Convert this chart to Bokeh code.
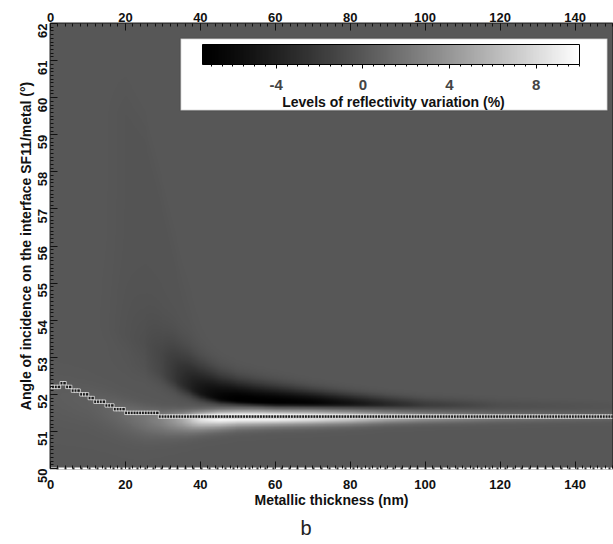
import numpy as np
from bokeh.plotting import figure
from bokeh.models import (LinearAxis, Range1d, ColorBar, LinearColorMapper,
                          FixedTicker, BoxAnnotation, Label, Title)
from bokeh.embed import file_html
from bokeh.resources import INLINE

# ---------------- data ----------------
thickness_range = [0, 150]          # nm
angle_range = [50, 62]              # degrees
x_ticks = [0, 20, 40, 60, 80, 100, 120, 140]
y_ticks = [50, 51, 52, 53, 54, 55, 56, 57, 58, 59, 60, 61, 62]
cbar_ticks = [-4, 0, 4, 8]
value_range = [-7.4, 10.0]          # % reflectivity variation (colour scale limits)

# profile of the map, read at thickness knots (nm)
knot_t       = [0,    10,   15,   20,    25,    30,   35,   40,    45,   50,    55,    60,    70,    80,    90,    100,   120,   150]
bright_amp   = [0.3,  0.5,  0.8,  1.3,   2.0,   3.0,  5.0,  8.5,   10.0, 10.0,  10.0,  10.0,  9.0,   7.5,   5.5,   4.0,   2.0,   0.9]
bright_ang   = [52.0, 51.8, 51.6, 51.45, 51.35, 51.32, 51.33, 51.35, 51.37, 51.38, 51.38, 51.38, 51.38, 51.38, 51.38, 51.38, 51.38, 51.38]
bright_sd_lo = [0.5,  0.45, 0.4,  0.38,  0.35,  0.3,  0.26, 0.22,  0.2,  0.18,  0.17,  0.16,  0.15,  0.14,  0.12,  0.11,  0.1,   0.08]
bright_sd_hi = [0.35, 0.3,  0.3,  0.25,  0.2,   0.16, 0.14, 0.13,  0.13, 0.13,  0.13,  0.12,  0.12,  0.11,  0.1,   0.09,  0.08,  0.07]
dark_amp     = [0.0,  0.0, -0.05, -0.15, -0.4,  -1.2, -3.0, -5.0,  -6.5, -7.4,  -7.4,  -7.4,  -6.8,  -5.2,  -3.4,  -1.9,  -0.6,  -0.2]
dark_ang     = [53.5, 53.5, 53.3, 53.1,  52.9,  52.6, 52.3, 52.05, 51.9, 51.84, 51.8,  51.78, 51.76, 51.74, 51.72, 51.7,  51.68, 51.66]
dark_sd_hi   = [1.5,  1.5,  1.5,  1.3,   1.0,   0.75, 0.6,  0.48,  0.4,  0.34,  0.31,  0.28,  0.22,  0.18,  0.15,  0.13,  0.12,  0.1]
dark_sd_lo   = [0.6,  0.6,  0.5,  0.4,   0.3,   0.25, 0.2,  0.15,  0.11, 0.09,  0.08,  0.08,  0.075, 0.07,  0.07,  0.07,  0.07,  0.07]
plume_amp    = [0.0,  0.0, -0.05, -0.2,  -0.25, -0.25, -0.2, -0.12, -0.05, 0.0,  0.0,   0.0,   0.0,   0.0,   0.0,   0.0,   0.0,   0.0]
plume_top    = [61.0, 61.0, 61.0, 61.0,  60.0,  58.0, 56.0, 54.5,  53.5, 53.0,  53.0,  53.0,  53.0,  53.0,  53.0,  53.0,  53.0,  53.0]

# dotted line: angle of the reflectivity minimum (step function of thickness)
res_step_start = [0.0,  3.0,  4.5,  6.0,  8.0,  10.0, 12.0, 14.5, 17.0, 20.0, 29.0]
res_step_angle = [52.2, 52.3, 52.2, 52.1, 52.0, 51.9, 51.8, 51.7, 51.6, 51.5, 51.4]
res_sample_step = 0.75  # nm between plotted points

# ---------------- build the map ----------------
n_t, n_a = 600, 600
t_grid = np.linspace(thickness_range[0], thickness_range[1], n_t)
a_grid = np.linspace(angle_range[0], angle_range[1], n_a)
A = a_grid[:, None]

def prof(vals):
    return np.interp(t_grid, knot_t, vals)[None, :]

dB = A - prof(bright_ang)
sB = np.where(dB >= 0, prof(bright_sd_hi), prof(bright_sd_lo))
bright = prof(bright_amp) * np.exp(-0.5 * (dB / sB) ** 2)

dD = A - prof(dark_ang)
sD = np.where(dD >= 0, prof(dark_sd_hi), prof(dark_sd_lo))
dark = prof(dark_amp) * np.exp(-0.5 * (dD / sD) ** 2)

plume = prof(plume_amp) * np.clip((prof(plume_top) - A) / 1.5, 0, 1) * np.clip((A - prof(dark_ang)) / 0.5, 0, 1)

Z = np.clip(bright + dark + plume, value_range[0], value_range[1])

res_t = np.arange(thickness_range[0], thickness_range[1] + 1e-9, res_sample_step)
idx = np.searchsorted(res_step_start, res_t, side="right") - 1
res_a = np.array(res_step_angle)[idx]

# ---------------- figure ----------------
levels = (255 * np.linspace(0, 1, 256) ** 1.245).astype(int)
palette = ["#%02x%02x%02x" % (v, v, v) for v in levels]
mapper = LinearColorMapper(palette=palette, low=value_range[0], high=value_range[1])

FONT = "Liberation Sans"
p = figure(width=613, height=544, output_backend="svg", toolbar_location=None,
           x_range=Range1d(*thickness_range), y_range=Range1d(*angle_range),
           min_border_left=50, min_border_right=1, min_border_top=23, min_border_bottom=76,
           x_axis_location="below")
p.grid.visible = False
p.outline_line_color = "#2a2a2a"
p.outline_line_width = 2
p.background_fill_color = "#585858"

p.image(image=[Z], x=thickness_range[0], y=angle_range[0],
        dw=thickness_range[1] - thickness_range[0], dh=angle_range[1] - angle_range[0],
        color_mapper=mapper)

p.scatter(res_t, res_a, marker="square", size=3.4, fill_color="#1a1a1a",
          line_color="white", line_width=0.7)

def style_axis(ax, ticks, minor):
    ax.ticker = FixedTicker(ticks=ticks, minor_ticks=minor)
    ax.major_tick_in = 7
    ax.major_tick_out = 0
    ax.minor_tick_in = 3
    ax.minor_tick_out = 0
    ax.major_tick_line_color = "#111111"
    ax.minor_tick_line_color = "#111111"
    ax.major_label_text_font = FONT
    ax.major_label_text_font_style = "bold"
    ax.major_label_text_font_size = "13px"
    ax.major_label_text_color = "#111111"
    ax.axis_label_text_font = FONT
    ax.axis_label_text_font_style = "bold"
    ax.axis_label_text_font_size = "14px"
    ax.axis_label_text_color = "#111111"

xminor = [float(v) for v in np.arange(0, 151, 2)]
yminor = [float(v) for v in np.round(np.arange(50, 62.001, 0.1), 2)]

xb = p.xaxis[0]
yl = p.yaxis[0]
xt = LinearAxis()
style_axis(xb, x_ticks, xminor)
style_axis(yl, y_ticks, yminor)
style_axis(xt, x_ticks, xminor)
p.add_layout(xt, "above")

xb.axis_label = "Metallic thickness (nm)"
xb.axis_label_standoff = 0
xb.major_label_standoff = 11
xb.axis_line_color = "white"
xb.axis_line_width = 2
xb.axis_line_dash = "6 2"

yl.axis_label = "Angle of incidence on the interface SF11/metal (°)"
yl.axis_label_standoff = -3
yl.major_label_standoff = 8
yl.major_label_orientation = np.pi / 2
yl.axis_line_color = None

xt.major_label_standoff = 2
xt.axis_line_color = None

# colour bar panel
p.add_layout(BoxAnnotation(left=130, right=557, bottom=358, top=430,
                           left_units="screen", right_units="screen",
                           bottom_units="screen", top_units="screen",
                           fill_color="white", fill_alpha=1, line_color="#333333",
                           line_width=1.5))
cbar = ColorBar(color_mapper=mapper, orientation="horizontal", width=377, height=20,
                location=(152, 376), padding=0,
                ticker=FixedTicker(ticks=cbar_ticks, minor_ticks=[float(v) for v in np.arange(-7, 10.01, 0.5)]),
                major_label_overrides={-4: "-4"},
                background_fill_alpha=0, border_line_color=None,
                bar_line_color="black", bar_line_width=1,
                major_tick_in=0, major_tick_out=4, minor_tick_in=0, minor_tick_out=2,
                major_tick_line_color="black", minor_tick_line_color="black",
                major_label_text_font=FONT, major_label_text_font_style="bold",
                major_label_text_font_size="15px", label_standoff=11)
p.add_layout(cbar, "center")
p.add_layout(Label(x=343, y=367, x_units="screen", y_units="screen",
                   text="Levels of reflectivity variation (%)", text_align="center",
                   text_baseline="middle", text_font=FONT, text_font_style="bold",
                   text_font_size="14px", text_color="#111111"))

p.add_layout(Title(text="b", align="left", offset=250, text_font=FONT,
                   text_font_style="normal", text_font_size="20px",
                   text_color="#222222", standoff=9), "below")

open("out.html", "w").write(file_html(p, INLINE))
